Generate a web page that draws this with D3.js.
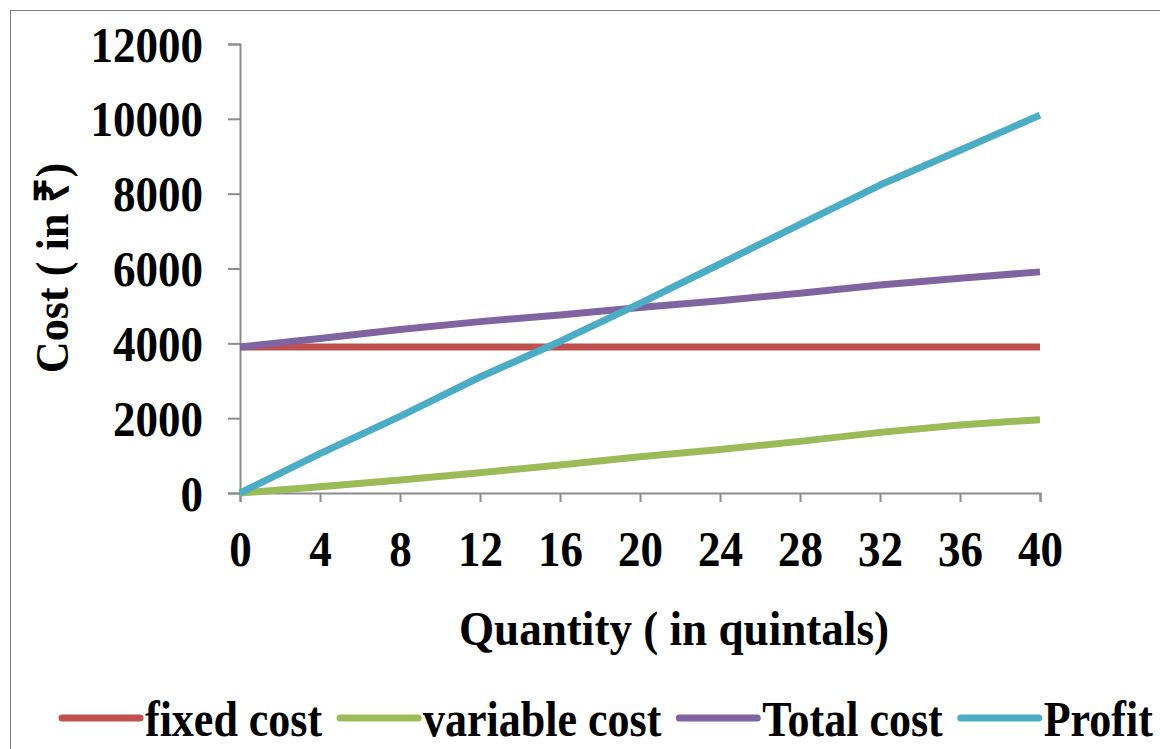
<!DOCTYPE html>
<html>
<head>
<meta charset="utf-8">
<script src="https://cdn.jsdelivr.net/npm/d3@7"></script>
<style>
html,body{margin:0;padding:0;background:#fff;}
svg{display:block;}
text{font-family:"Liberation Serif","Times New Roman",serif;font-weight:bold;fill:#000;}
</style>
</head>
<body>
<svg id="chart" width="1160" height="749"></svg>
<script>
const quantities = [0, 4, 8, 12, 16, 20, 24, 28, 32, 36, 40];
const fixedCost = [3900, 3900, 3900, 3900, 3900, 3900, 3900, 3900, 3900, 3900, 3900];
const variableCost = [0, 170, 350, 540, 750, 970, 1160, 1380, 1620, 1820, 1960];
const totalCost = [3900, 4130, 4370, 4580, 4760, 4960, 5140, 5340, 5560, 5740, 5910];
const profit = [0, 1050, 2050, 3100, 4050, 5070, 6120, 7180, 8230, 9160, 10100];
const yTicks = [0, 2000, 4000, 6000, 8000, 10000, 12000];
const xTicks = [0, 4, 8, 12, 16, 20, 24, 28, 32, 36, 40];
const seriesNames = ["fixed cost", "variable cost", "Total cost", "Profit"];
const seriesColors = ["#C0504D", "#9BBB59", "#8064A2", "#4BACC6"];
const seriesValues = [fixedCost, variableCost, totalCost, profit];

const svg = d3.select("#chart");
// frame
svg.append("rect").attr("x", 10.5).attr("y", 10.5).attr("width", 1160).attr("height", 760)
  .attr("fill", "none").attr("stroke", "#7f7f7f").attr("stroke-width", 1);

const x = d3.scaleLinear().domain([0, 40]).range([240, 1040]);
const y = d3.scaleLinear().domain([0, 12000]).range([493, 44]);

const sx = 0.9;
const axisColor = "#8c8c8c";
const gy = svg.append("g").attr("transform", "translate(240,0)")
  .call(d3.axisLeft(y).tickValues(yTicks).tickSize(12).tickPadding(24).tickFormat(d3.format("d")));
const gx = svg.append("g").attr("transform", "translate(0,493)")
  .call(d3.axisBottom(x).tickValues(xTicks).tickSize(9).tickPadding(29).tickFormat(d3.format("d")));
[gx, gy].forEach(g => {
  g.selectAll("path, line").attr("stroke", axisColor).attr("stroke-width", 2);
  g.selectAll("text").style("font-family", '"Liberation Serif","Times New Roman",serif')
    .style("font-weight", "bold").style("font-size", "50px").attr("fill", "#000")
    .attr("transform", `scale(${sx},1)`);
});
gy.selectAll("text").attr("dy", "0.34em").attr("x", -37 / sx);
gx.selectAll("text").attr("dy", "0.71em");

// axis titles
svg.append("text").attr("transform", "translate(674,645) scale(0.94,1)").attr("text-anchor", "middle")
  .style("font-size", "48px").text("Quantity ( in quintals)");
svg.append("text").attr("transform", "translate(68,268) rotate(-90) scale(0.94,1)").attr("text-anchor", "middle")
  .style("font-size", "47px").text("Cost ( in ₹)");

// lines
const line = d3.line().x((d, i) => x(quantities[i])).y(d => y(d));
seriesValues.forEach((vals, k) => {
  svg.append("path").datum(vals).attr("d", line)
    .attr("fill", "none").attr("stroke", seriesColors[k]).attr("stroke-width", 7)
    .attr("stroke-linejoin", "round");
});

// legend
const lg = svg.append("g");
const lsx = 0.88;
let cx = 62;
seriesNames.forEach((name, k) => {
  lg.append("line").attr("x1", cx).attr("x2", cx + 78).attr("y1", 718).attr("y2", 718)
    .attr("stroke", seriesColors[k]).attr("stroke-width", 7).attr("stroke-linecap", "round");
  const t = lg.append("text").attr("transform", `translate(${cx + 83},736) scale(${lsx},1)`)
    .style("font-size", "50px").text(name);
  const w = t.node().getComputedTextLength() * lsx;
  cx += 83 + w + 18;
});
</script>
</body>
</html>
